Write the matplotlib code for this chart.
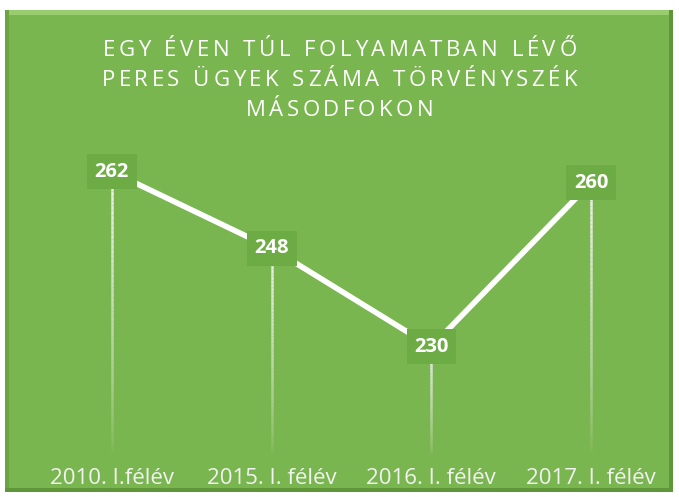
import matplotlib.pyplot as plt
import numpy as np
from matplotlib.patches import Rectangle
from matplotlib.collections import LineCollection

# data
categories = ['2010. I.félév', '2015. I. félév', '2016. I. félév', '2017. I. félév']
values = [262, 248, 230, 260]
title_lines = ['EGY ÉVEN TÚL FOLYAMATBAN LÉVŐ',
               'PERES ÜGYEK SZÁMA TÖRVÉNYSZÉK',
               'MÁSODFOKON']

green = '#7AB64F'
box_green = '#6DAC44'

W, H = 679, 497
fig = plt.figure(figsize=(W / 100, H / 100), dpi=100)
fig.patch.set_facecolor('white')


def fx(px):
    return px / W


def fy(py):
    return 1 - py / H


def rect(x0, y0, x1, y1, color, z):
    fig.patches.append(Rectangle((fx(x0), fy(y1)), fx(x1) - fx(x0), fy(y0) - fy(y1),
                                 transform=fig.transFigure, facecolor=color,
                                 edgecolor='none', zorder=z))


# green panel with a soft bevel
rect(5, 10, 673, 492, green, 0)
rect(5, 10, 673, 15, '#98CC6F', 1)
rect(5, 10, 9, 492, '#6AA443', 1)
rect(669, 10, 673, 492, '#5E9639', 1)
rect(5, 488, 673, 492, '#5E9639', 1)

ax = fig.add_axes([fx(32), fy(456), fx(671) - fx(32), fy(128) - fy(456)])
ax.set_zorder(5)
ax.set_facecolor('none')
x = np.arange(len(values))
ax.set_xlim(-0.5, len(values) - 0.5)
ax.set_ylim(210, 270)

# fading drop lines
for xi, v in zip(x, values):
    ys = np.linspace(v, 210, 60)
    segs = [[(xi, ys[i]), (xi, ys[i + 1])] for i in range(len(ys) - 1)]
    alphas = np.linspace(1.0, 0.0, len(segs)) ** 0.7
    cols = [(0.94, 0.94, 0.94, a) for a in alphas]
    ax.add_collection(LineCollection(segs, colors=cols, linewidths=1.8, zorder=2))

ax.plot(x, values, color='white', linewidth=4, solid_capstyle='butt', zorder=3)

for xi, v in zip(x, values):
    ax.text(xi, v, str(v), ha='center', va='center', color='white',
            fontsize=14.5, fontweight='bold', family='Open Sans', zorder=5,
            bbox=dict(boxstyle='square,pad=0.38', facecolor=box_green, edgecolor='none'))

ax.set_xticks(x)
ax.set_xticklabels(categories, fontsize=16, color='#F2F2F2', family='Open Sans')
ax.tick_params(axis='x', length=0, pad=9)
ax.set_yticks([])
for s in ax.spines.values():
    s.set_visible(False)

# title with wide letter spacing, placed character by character
renderer = fig.canvas.get_renderer()
tsize = 16
all_widths = []
for line in title_lines:
    widths = []
    for ch in line:
        t = fig.text(0, 0, ch if ch != ' ' else 'i', fontsize=tsize, family='Open Sans')
        w = t.get_window_extent(renderer).width
        if ch == ' ':
            w = w * 1.2
        widths.append(w)
        t.remove()
    all_widths.append(widths)
# letter spacing chosen so that the first line spans about 474 px
spacing = (474 - sum(all_widths[0])) / (len(title_lines[0]) - 1)
for line, widths, cy in zip(title_lines, all_widths, [49, 79, 109]):
    total = sum(widths) + spacing * (len(line) - 1)
    cur = W / 2 - total / 2
    for ch, w in zip(line, widths):
        if ch != ' ':
            fig.text(fx(cur), fy(cy + 7), ch, ha='left', va='baseline', color='white',
                     fontsize=tsize, family='Open Sans', zorder=6)
        cur += w + spacing

fig.savefig('out.png', dpi=100)
